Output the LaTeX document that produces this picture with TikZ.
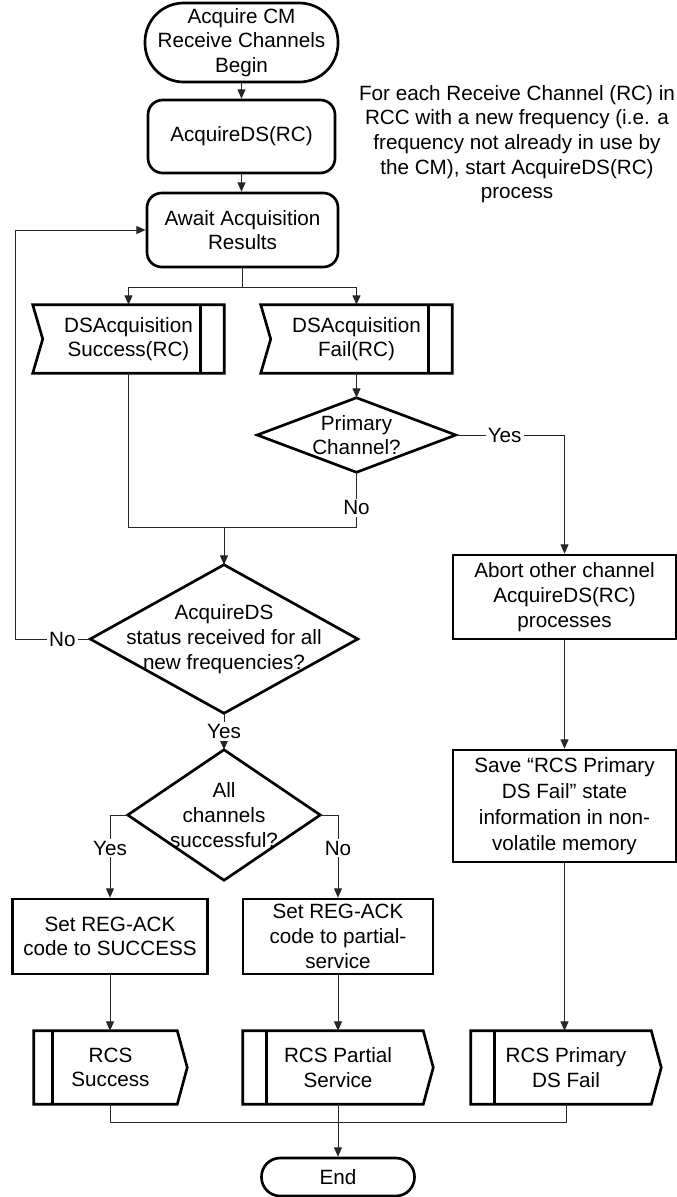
\documentclass[tikz,border=0pt]{standalone}
\usepackage{fontspec}
\setmainfont{Liberation Sans}
\usetikzlibrary{arrows.meta,calc}
\begin{document}
\begin{tikzpicture}[x=0.75pt,y=-0.75pt,
  shp/.style={line width=2pt},
  con/.style={line width=0.75pt, draw=black!85},
  arr/.style={con,-{Triangle[length=7pt,width=6pt]}},
  txt/.style={inner sep=0pt, align=center, font=\fontsize{15.5}{18.5}\selectfont},
  lbl/.style={fill=white, inner sep=1.5pt, font=\fontsize{15.5}{18.5}\selectfont},
]
\path[use as bounding box] (0,0) rectangle (677,1197);

% --- nodes ---
\node[txt, draw, shp, rounded corners=29pt, minimum width=193*0.75pt, minimum height=79*0.75pt] (start) at (241.5,42.5) {Acquire CM\\Receive Channels\\Begin};
\node[txt, draw, shp, rounded corners=11pt, minimum width=187*0.75pt, minimum height=73*0.75pt] (acq) at (241.5,136.5) {AcquireDS(RC)};
\node[txt] (note) at (517,144) {For each Receive Channel (RC) in\\RCC with a new frequency (i.e. a\\frequency not already in use by\\the CM), start AcquireDS(RC)\\process};
\node[txt, draw, shp, rounded corners=11pt, minimum width=191*0.75pt, minimum height=74*0.75pt] (await) at (242.5,230) {Await Acquisition\\Results};

\node[txt, minimum width=191*0.75pt, minimum height=68*0.75pt] (succ) at (128.5,339) {DSAcquisition\\Success(RC)};
\draw[shp] (succ.north west) -- (succ.north east) -- (succ.south east) -- (succ.south west) -- ($(succ.west)+(10,0)$) -- cycle;
\draw[shp] ($(succ.north east)+(-24,0)$) -- ($(succ.south east)+(-24,0)$);

\node[txt, minimum width=191*0.75pt, minimum height=68*0.75pt] (fail) at (356.5,339) {DSAcquisition\\Fail(RC)};
\draw[shp] (fail.north west) -- (fail.north east) -- (fail.south east) -- (fail.south west) -- ($(fail.west)+(10,0)$) -- cycle;
\draw[shp] ($(fail.north east)+(-24,0)$) -- ($(fail.south east)+(-24,0)$);

\node[txt, minimum width=198*0.75pt, minimum height=74*0.75pt] (prim) at (356.5,435) {Primary\\Channel?};
\draw[shp] (prim.north) -- (prim.east) -- (prim.south) -- (prim.west) -- cycle;

\node[txt, minimum width=267*0.75pt, minimum height=148*0.75pt] (big) at (224,639) {AcquireDS\\status received for all\\new frequencies?};
\draw[shp] (big.north) -- (big.east) -- (big.south) -- (big.west) -- cycle;

\node[txt, minimum width=192*0.75pt, minimum height=130*0.75pt] (small) at (224,815) {All\\channels\\successful?};
\draw[shp] (small.north) -- (small.east) -- (small.south) -- (small.west) -- cycle;

\node[txt, draw, shp, minimum width=223*0.75pt, minimum height=84*0.75pt] (abort) at (564.5,597) {Abort other channel\\AcquireDS(RC)\\processes};
\node[txt, draw, shp, minimum width=223*0.75pt, minimum height=112*0.75pt, font=\fontsize{15.5}{19.5}\selectfont] (save) at (564.5,806) {Save “RCS Primary\\DS Fail” state\\information in non-\\volatile memory};

\node[txt, draw, shp, minimum width=195*0.75pt, minimum height=75*0.75pt] (setS) at (110,936.5) {Set REG-ACK\\code to SUCCESS};
\node[txt, draw, shp, minimum width=190*0.75pt, minimum height=75*0.75pt] (setP) at (338,936.5) {Set REG-ACK\\code to partial-\\service};

\node[txt, minimum width=153*0.75pt, minimum height=73*0.75pt] (rcsS) at (110.5,1067.5) {RCS\\Success};
\draw[shp] (rcsS.north west) -- ($(rcsS.north east)+(-10,0)$) -- (rcsS.east) -- ($(rcsS.south east)+(-10,0)$) -- (rcsS.south west) -- cycle;
\draw[shp] ($(rcsS.north west)+(19,0)$) -- ($(rcsS.south west)+(19,0)$);

\node[txt, minimum width=190*0.75pt, minimum height=73*0.75pt] (rcsP) at (338,1067.5) {RCS Partial\\Service};
\draw[shp] (rcsP.north west) -- ($(rcsP.north east)+(-10,0)$) -- (rcsP.east) -- ($(rcsP.south east)+(-10,0)$) -- (rcsP.south west) -- cycle;
\draw[shp] ($(rcsP.north west)+(24,0)$) -- ($(rcsP.south west)+(24,0)$);

\node[txt, minimum width=190*0.75pt, minimum height=73*0.75pt] (rcsF) at (566,1067.5) {RCS Primary\\DS Fail};
\draw[shp] (rcsF.north west) -- ($(rcsF.north east)+(-10,0)$) -- (rcsF.east) -- ($(rcsF.south east)+(-10,0)$) -- (rcsF.south west) -- cycle;
\draw[shp] ($(rcsF.north west)+(24,0)$) -- ($(rcsF.south west)+(24,0)$);

\node[txt, draw, shp, rounded corners=14pt, minimum width=153*0.75pt, minimum height=38*0.75pt] (end) at (338,1177) {End};

% --- connectors ---
\coordinate (split) at (242.5,287);
\coordinate (merge) at (224,527);
\coordinate (loop) at (15,639);
\coordinate (join) at (338,1122);

\draw[arr] (start.south) -- (start.south |- acq.north);
\draw[arr] (acq.south) -- (acq.south |- await.north);
\draw[con] (await.south) -- (split);
\draw[arr] (split) -| (succ.north);
\draw[arr] (split) -| (fail.north);
\draw[arr] (fail.south) -- (prim.north);
\draw[arr] (prim.east) -- node[lbl, pos=0.45]{Yes} (prim.east -| abort.north) -- (abort.north);
\draw[con] (prim.south) -- node[lbl, pos=0.65]{No} (prim.south |- merge) -- (succ.south |- merge) -- (succ.south);
\draw[arr] (merge) -- (big.north);
\draw[arr] (big.west) -- node[lbl, pos=0.37]{No} (loop) |- (await.west);
\draw[arr] (big.south) -- node[lbl]{Yes} (small.north);
\draw[arr] (small.west) -| node[lbl, pos=0.7]{Yes} (setS.north);
\draw[arr] (small.east) -| node[lbl, pos=0.7]{No} (setP.north);
\draw[arr] (setS.south) -- (setS.south |- rcsS.north);
\draw[arr] (setP.south) -- (rcsP.north);
\draw[arr] (abort.south) -- (save.north);
\draw[arr] (save.south) -- (save.south |- rcsF.north);
\draw[con] (rcsS.south) |- (join) -| (rcsF.south);
\draw[arr] (rcsP.south) -- (end.north);
\end{tikzpicture}
\end{document}
